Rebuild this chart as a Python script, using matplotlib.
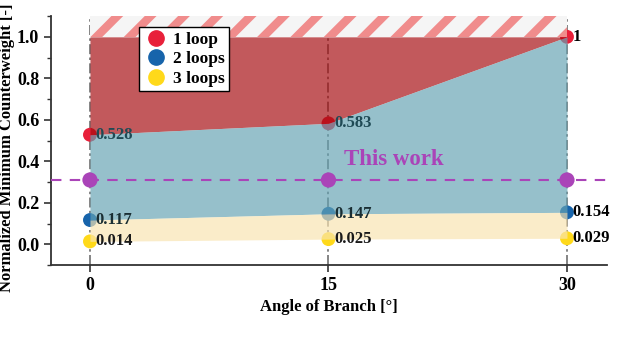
import matplotlib
matplotlib.use("Agg")
import matplotlib.pyplot as plt
from matplotlib.lines import Line2D

angles = [0, 15, 30]
loop1 = [0.528, 0.583, 1.0]
loop2 = [0.117, 0.147, 0.154]
loop3 = [0.014, 0.025, 0.029]
this_work = 0.31
labels1 = ["0.528", "0.583", "1"]
labels2 = ["0.117", "0.147", "0.154"]
labels3 = ["0.014", "0.025", "0.029"]
xticks = [0, 15, 30]
yticks = [0.0, 0.2, 0.4, 0.6, 0.8, 1.0]

plt.rcParams['font.family'] = ['Liberation Serif', 'DejaVu Serif']
plt.rcParams['font.weight'] = 'bold'
plt.rcParams['hatch.linewidth'] = 6
plt.rcParams['hatch.color'] = '#f08c8c'

fig = plt.figure(figsize=(6.4, 3.42), dpi=100)
ax = fig.add_axes([0.0797, 0.225, 0.8683, 0.728])

c_red, c_blue, c_yel, c_mag = '#e8203a', '#1764ab', '#ffd91a', '#aa44b8'

# vertical guide lines
for a in angles:
    ax.axvline(a, color='#707070', lw=1.2, ls=(0, (6, 2, 1.5, 2)), zorder=1)

# markers
ax.scatter(angles, loop1, s=100, color=c_red, zorder=3, edgecolors='none')
ax.scatter(angles, loop2, s=100, color=c_blue, zorder=3, edgecolors='none')
ax.scatter(angles, loop3, s=100, color=c_yel, zorder=3, edgecolors='none')

for xs, ys, labs, inside in [(angles, loop1, labels1, '#1f4a55'),
                             (angles, loop2, labels2, '#1a2e33'),
                             (angles, loop3, labels3, '#1a1a1a')]:
    for i, (x, y, t) in enumerate(zip(xs, ys, labs)):
        col = inside if i < len(xs) - 1 else 'black'
        ax.annotate(t, (x, y), xytext=(4, 0), textcoords='offset points',
                    ha='left', va='center', fontsize=12, fontweight='bold',
                    color=col, zorder=5)

# fills on top of markers (semi transparent)
alpha = 0.68
ax.fill_between(angles, loop1, [1.0] * 3, color=(165/255, 11/255, 15/255), alpha=alpha,
                lw=0, zorder=4)
ax.fill_between(angles, loop2, loop1, color=(100/255, 163/255, 179/255), alpha=alpha,
                lw=0, zorder=4)
ax.fill_between(angles, loop3, loop2, color=(249/255, 228/255, 176/255), alpha=alpha,
                lw=0, zorder=4)

# hatched infeasible region
ax.fill_between([0, 30], [1.0, 1.0], [1.1, 1.1], facecolor='#f5f5f5',
                hatch='/', lw=0, zorder=4)

# this work line on top
ax.axhline(this_work, color=c_mag, lw=1.5, ls=(0, (5, 4)), zorder=6)
ax.scatter(angles, [this_work] * 3, s=120, color=c_mag, zorder=7, edgecolors='none')

ax.text(16.0, 0.41, 'This work', color=c_mag, fontsize=16.5, fontweight='bold',
        ha='left', va='center', zorder=7)

ax.set_xlim(-2.45, 32.5)
ax.set_ylim(-0.1, 1.1)
ax.set_xticks(xticks)
ax.set_xticklabels([str(v) for v in xticks], fontsize=13, fontweight='bold')
ax.set_yticks(yticks)
ax.set_yticklabels([f"{v:.1f}" for v in yticks], fontsize=13, fontweight='bold')
ax.set_yticks([-0.1, 0.1, 0.3, 0.5, 0.7, 0.9, 1.1], minor=True)
ax.tick_params(axis='both', direction='out', width=1.2, length=5, color='#333333')
ax.tick_params(axis='y', which='minor', direction='out', width=1.0, length=3, color='#333333')

for s in ['top', 'right']:
    ax.spines[s].set_visible(False)
for s in ['left', 'bottom']:
    ax.spines[s].set_linewidth(1.3)
    ax.spines[s].set_color('#333333')

ax.set_xlabel('Angle of Branch [°]', fontsize=12, fontweight='bold')
ax.set_ylabel('Normalized Minimum Counterweight [-]', fontsize=12, fontweight='bold')
ax.yaxis.set_label_coords(-0.064, 0.47)

handles = [Line2D([], [], marker='o', ls='none', color=c, markersize=11) for c in (c_red, c_blue, c_yel)]
leg = ax.legend(handles, ['1 loop', '2 loops', '3 loops'], loc='upper left',
                bbox_to_anchor=(0.158, 0.955), fancybox=False, framealpha=1,
                edgecolor='black', prop={'weight': 'bold', 'size': 12.5},
                handletextpad=0.2, borderpad=0.25, labelspacing=0.2, handlelength=1.5,
                borderaxespad=0)
leg.set_zorder(10)
leg.get_frame().set_linewidth(1.0)

fig.savefig('out.png', dpi=100)
